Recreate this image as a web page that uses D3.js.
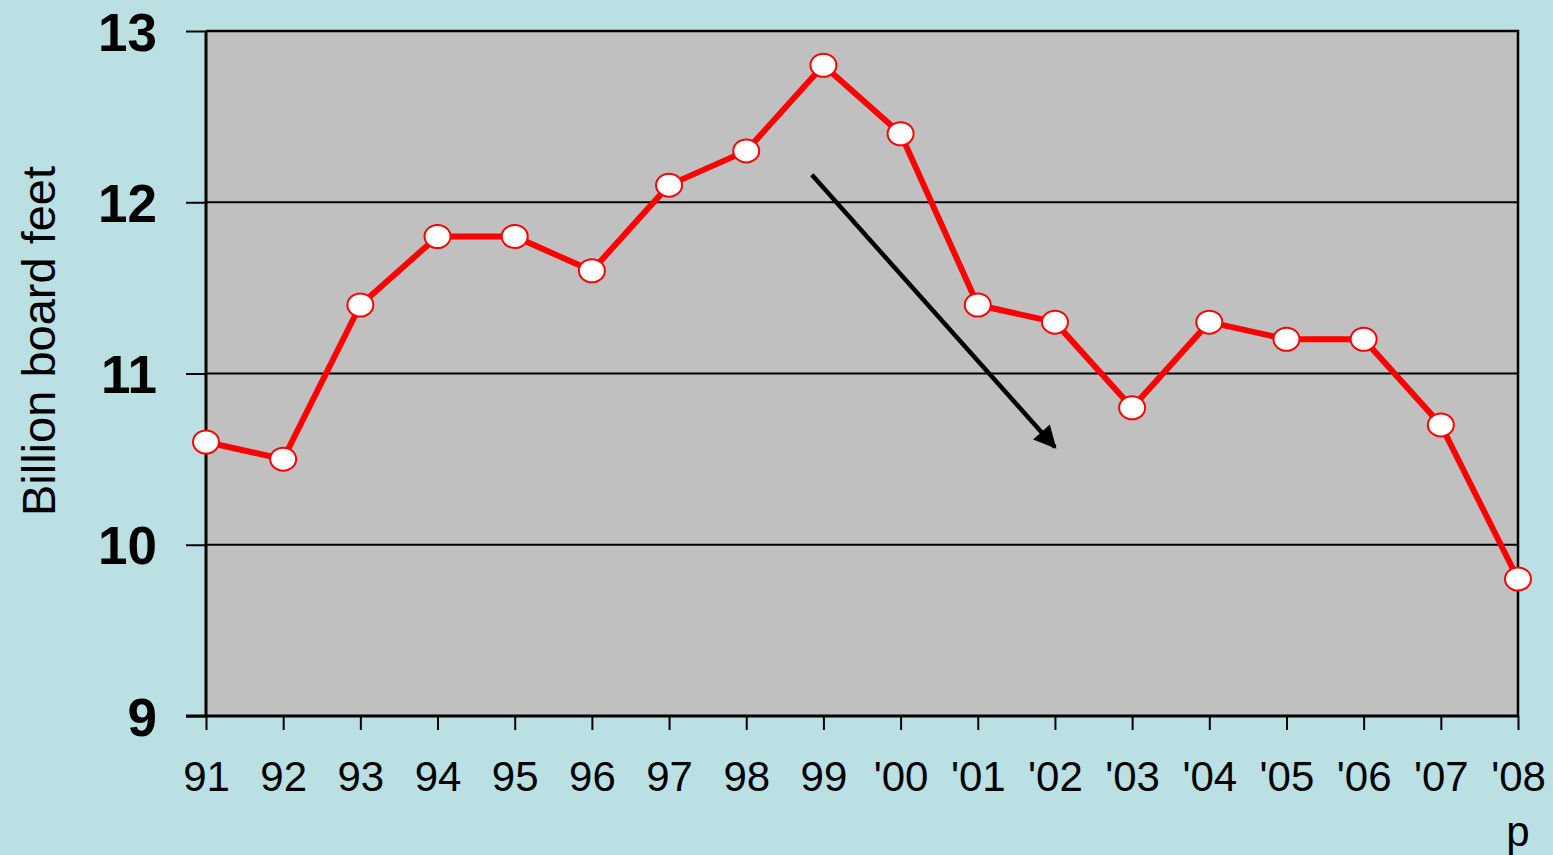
<!DOCTYPE html>
<html>
<head>
<meta charset="utf-8">
<script src="https://cdn.jsdelivr.net/npm/d3@7"></script>
<style>
  body { margin: 0; background: #bbe0e3; }
  svg { display: block; }
</style>
</head>
<body>
<div id="chart-area"></div>
<script>
var years = ["91", "92", "93", "94", "95", "96", "97", "98", "99", "'00",
             "'01", "'02", "'03", "'04", "'05", "'06", "'07", "'08"];
var values = [10.6, 10.5, 11.4, 11.8, 11.8, 11.6, 12.1, 12.3, 12.8, 12.4,
              11.4, 11.3, 10.8, 11.3, 11.2, 11.2, 10.7, 9.8];
var yTicks = [9, 10, 11, 12, 13];
// trend arrow, in data units (category index, value)
var arrowFrom = [7.85, 12.16];
var arrowTo = [11.0, 10.57];

var width = 1553, height = 855;
var plotLeft = 206, plotRight = 1518, plotTop = 31, plotBottom = 716;

var svg = d3.select("#chart-area").append("svg")
    .attr("width", width)
    .attr("height", height);

svg.append("rect")
    .attr("width", width)
    .attr("height", height)
    .attr("fill", "#bbe0e3");

var x = d3.scalePoint()
    .domain(years)
    .range([plotLeft, plotRight]);

var xi = d3.scaleLinear()
    .domain([0, years.length - 1])
    .range([plotLeft, plotRight]);

var y = d3.scaleLinear()
    .domain([9, 13])
    .range([plotBottom, plotTop]);

svg.append("rect")
    .attr("x", plotLeft)
    .attr("y", plotTop)
    .attr("width", plotRight - plotLeft)
    .attr("height", plotBottom - plotTop)
    .attr("fill", "#c0c0c0");

// gridlines
svg.selectAll(".grid")
    .data(yTicks.slice(1, 4))
    .enter().append("line")
    .attr("class", "grid")
    .attr("x1", plotLeft)
    .attr("x2", plotRight)
    .attr("y1", d => y(d))
    .attr("y2", d => y(d))
    .attr("stroke", "#000")
    .attr("stroke-width", 2);

// frame: top, right
svg.append("path")
    .attr("d", "M" + plotLeft + "," + y(13) + "H" + plotRight + "V" + plotBottom)
    .attr("fill", "none")
    .attr("stroke", "#000")
    .attr("stroke-width", 2.5);

// y axis
var yAxis = svg.append("g")
    .attr("transform", "translate(" + plotLeft + ",0)")
    .call(d3.axisLeft(y).tickValues(yTicks).tickSize(20).tickPadding(29).tickFormat(d3.format("d")));
yAxis.select(".domain").attr("stroke-width", 3).attr("d", "M0," + plotTop + "V" + plotBottom);
yAxis.selectAll(".tick line").attr("stroke-width", 2);
yAxis.selectAll("text")
    .attr("font-family", "Liberation Sans, Arial, sans-serif")
    .attr("font-size", "53px")
    .attr("font-weight", "bold")
    .attr("fill", "#000")
    .attr("dy", "0.36em");

// x axis
var xAxis = svg.append("g")
    .attr("transform", "translate(0," + plotBottom + ")")
    .call(d3.axisBottom(x).tickSize(14).tickPadding(31));
xAxis.select(".domain").attr("stroke-width", 3).attr("d", "M" + (plotLeft - 20) + ",0H" + plotRight);
xAxis.selectAll(".tick line").attr("stroke-width", 2);
xAxis.selectAll("text")
    .attr("font-family", "Liberation Sans, Arial, sans-serif")
    .attr("font-size", "42px")
    .attr("fill", "#000");

svg.append("text")
    .attr("x", x("'08"))
    .attr("y", 846)
    .attr("text-anchor", "middle")
    .attr("font-family", "Liberation Sans, Arial, sans-serif")
    .attr("font-size", "42px")
    .text("p");

// y title
svg.append("text")
    .attr("transform", "translate(55,341) rotate(-90)")
    .attr("text-anchor", "middle")
    .attr("font-family", "Liberation Sans, Arial, sans-serif")
    .attr("font-size", "47px")
    .attr("fill", "#000")
    .text("Billion board feet");

// arrow
svg.append("defs").append("marker")
    .attr("id", "head")
    .attr("viewBox", "0 0 10 10")
    .attr("refX", 9)
    .attr("refY", 5)
    .attr("markerWidth", 6)
    .attr("markerHeight", 5)
    .attr("markerUnits", "strokeWidth")
    .attr("orient", "auto")
    .append("path")
    .attr("d", "M0,0L10,5L0,10Z")
    .attr("fill", "#000");

svg.append("line")
    .attr("x1", xi(arrowFrom[0]))
    .attr("y1", y(arrowFrom[1]))
    .attr("x2", xi(arrowTo[0]))
    .attr("y2", y(arrowTo[1]))
    .attr("stroke", "#000")
    .attr("stroke-width", 4.5)
    .attr("marker-end", "url(#head)");

// series
var line = d3.line()
    .x((d, i) => x(years[i]))
    .y(d => y(d));

svg.append("path")
    .datum(values)
    .attr("d", line)
    .attr("fill", "none")
    .attr("stroke", "#ff0000")
    .attr("stroke-width", 6)
    .attr("stroke-linejoin", "round");

svg.selectAll(".dot")
    .data(values)
    .enter().append("ellipse")
    .attr("class", "dot")
    .attr("cx", (d, i) => x(years[i]))
    .attr("cy", d => y(d))
    .attr("rx", 13)
    .attr("ry", 11.5)
    .attr("fill", "#fff")
    .attr("stroke", "#ff0000")
    .attr("stroke-width", 2);
</script>
</body>
</html>
